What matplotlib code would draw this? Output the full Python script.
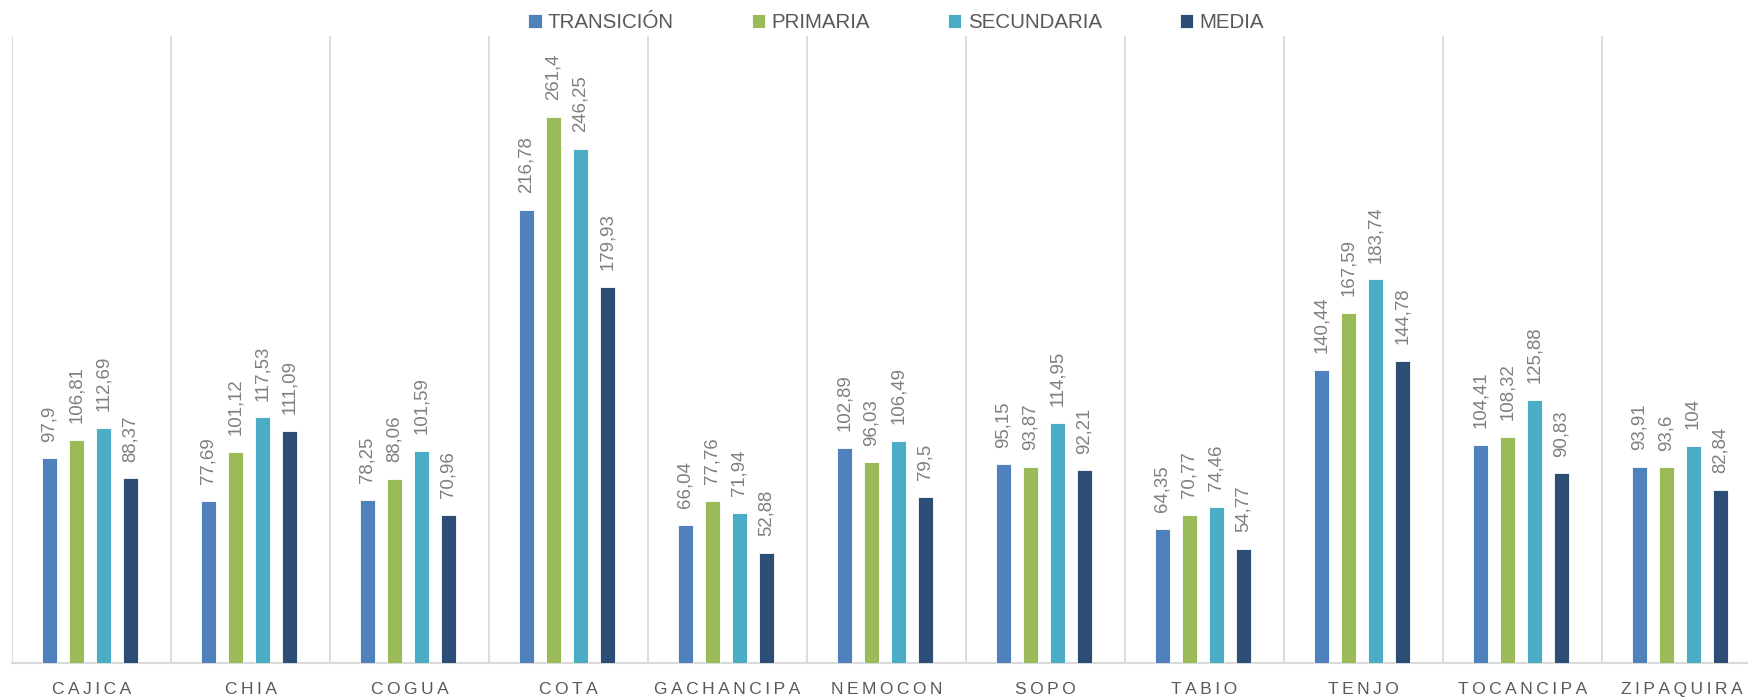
import matplotlib
matplotlib.use("Agg")
import matplotlib.pyplot as plt
import numpy as np

municipios = ["CAJICA", "CHIA", "COGUA", "COTA", "GACHANCIPA", "NEMOCON",
              "SOPO", "TABIO", "TENJO", "TOCANCIPA", "ZIPAQUIRA"]
transicion = [97.9, 77.69, 78.25, 216.78, 66.04, 102.89, 95.15, 64.35, 140.44, 104.41, 93.91]
primaria = [106.81, 101.12, 88.06, 261.4, 77.76, 96.03, 93.87, 70.77, 167.59, 108.32, 93.6]
secundaria = [112.69, 117.53, 101.59, 246.25, 71.94, 106.49, 114.95, 74.46, 183.74, 125.88, 104]
media = [88.37, 111.09, 70.96, 179.93, 52.88, 79.5, 92.21, 54.77, 144.78, 90.83, 82.84]

series = [("TRANSICIÓN", transicion, "#4f81bd"),
          ("PRIMARIA", primaria, "#9bbb59"),
          ("SECUNDARIA", secundaria, "#4bacc6"),
          ("MEDIA", media, "#2c4d75")]

FONT = ["Liberation Sans", "DejaVu Sans"]
plt.rcParams["font.family"] = FONT

fig = plt.figure(figsize=(17.48, 6.99), dpi=100)
ax = fig.add_axes([12 / 1748, 36 / 699, 1749 / 1748, 626.7 / 699])

x = np.arange(len(municipios))
step, width = 0.17, 0.091
for i, (name, vals, col) in enumerate(series):
    pos = x + (i - 1.5) * step - 0.01
    ax.bar(pos, vals, width=width, color=col, edgecolor="white", linewidth=0.6,
           label=name, zorder=3)
    for xi, v in zip(pos, vals):
        ax.annotate(f"{v:g}".replace(".", ","), (xi, v), xytext=(0, 12),
                    textcoords="offset points", rotation=90, ha="center",
                    va="bottom", fontsize=13.4, color="#7f7f7f")

ax.set_xlim(-0.5, len(municipios) - 0.5)
ax.set_ylim(0, 300)
ax.set_yticks([])
ax.set_xticks(x)
ax.set_xticklabels(["\u2009".join(m) for m in municipios], fontsize=12.5,
                   color="#595959")
ax.set_xticks(np.arange(-0.5, len(municipios), 1), minor=True)
ax.tick_params(axis="x", which="both", length=0, pad=14)
ax.grid(axis="x", which="minor", color="#d9d9d9", lw=1.3, zorder=0)
for s in ["top", "right", "left"]:
    ax.spines[s].set_visible(False)
ax.spines["bottom"].set_color("#d9d9d9")
ax.spines["bottom"].set_linewidth(1.5)

fig.legend(loc="center", bbox_to_anchor=(896 / 1748, 1 - 23 / 699), ncol=4,
           frameon=False, fontsize=14.8, handlelength=0.65, handleheight=0.65,
           handletextpad=0.3, columnspacing=3.8, labelcolor="#595959",
           borderpad=0)

fig.savefig("out.png", dpi=100)
